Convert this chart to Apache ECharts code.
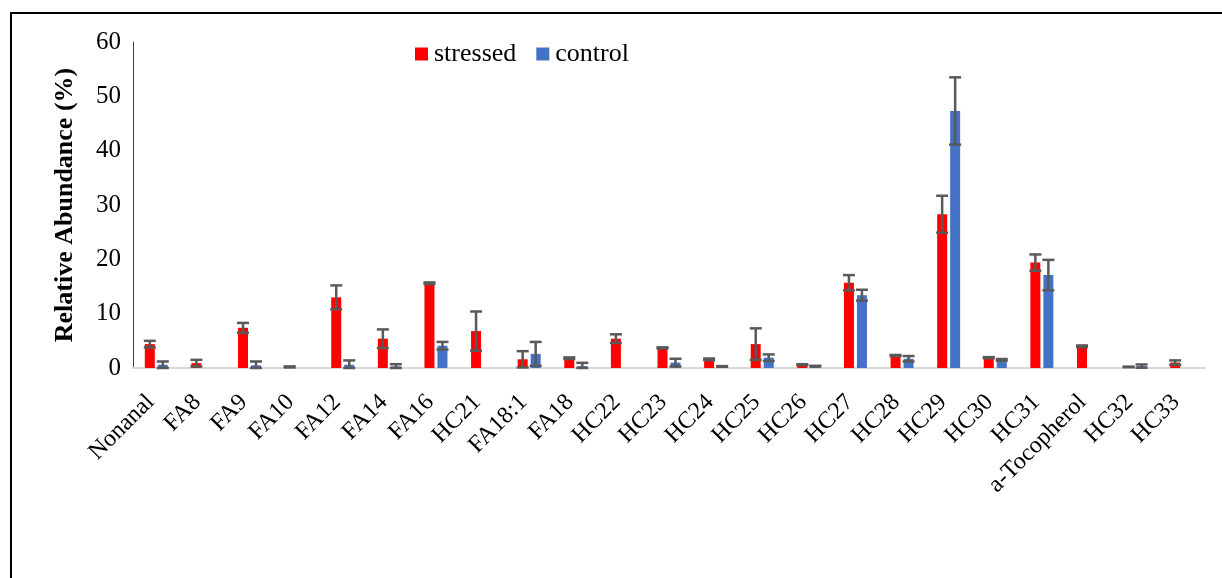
<!DOCTYPE html>
<html>
<head>
<meta charset="utf-8">
<script src="https://cdn.jsdelivr.net/npm/echarts@6/dist/echarts.min.js"></script>
<style>html,body{margin:0;padding:0;background:#fff}#c{width:1222px;height:578px}</style>
</head>
<body>
<div id="c"></div>
<script>
const categories = ['Nonanal','FA8','FA9','FA10','FA12','FA14','FA16','HC21','FA18:1','FA18','HC22','HC23','HC24','HC25','HC26','HC27','HC28','HC29','HC30','HC31','a-Tocopherol','HC32','HC33'];
const stressed    = [4.4, 0.9, 7.4, 0.2, 13.0, 5.4, 15.6, 6.8, 1.6, 1.8, 5.4, 3.7, 1.6, 4.4, 0.6, 15.7, 2.3, 28.3, 1.9, 19.4, 4.0, 0.2, 1.0];
const stressedErr = [0.6, 0.6, 0.9, 0.1, 2.2, 1.7, 0.15, 3.6, 1.5, 0.15, 0.8, 0.1, 0.15, 2.9, 0.1, 1.4, 0.1, 3.4, 0.1, 1.5, 0.15, 0.05, 0.4];
const control     = [0.6, null, 0.5, null, 0.6, 0.3, 4.1, null, 2.6, 0.35, null, 1.0, 0.3, 1.9, 0.35, 13.4, 1.7, 47.3, 1.5, 17.1, null, 0.35, null];
const controlErr  = [0.6, null, 0.7, null, 0.8, 0.4, 0.7, null, 2.2, 0.6, null, 0.7, 0.05, 0.6, 0.05, 1.0, 0.5, 6.2, 0.15, 2.8, null, 0.3, null];
const yTicks = [0, 10, 20, 30, 40, 50, 60];

const FONT = '"Liberation Serif", "Times New Roman", serif';
const BAR_W = 10, BAR_GAP = 3;

function errData(vals, errs) {
  const out = [];
  vals.forEach((v, i) => { if (v != null && errs[i] != null) out.push([i, Math.max(0, v - errs[i]), v + errs[i]]); });
  return out;
}
function errRender(offset) {
  return function (params, api) {
    const lo = api.coord([api.value(0), api.value(1)]);
    const hi = api.coord([api.value(0), api.value(2)]);
    const x = lo[0] + offset, cap = 6;
    const st = { stroke: '#595959', lineWidth: 2.5 };
    return { type: 'group', children: [
      { type: 'line', shape: { x1: x, y1: lo[1], x2: x, y2: hi[1] }, style: st },
      { type: 'line', shape: { x1: x - cap, y1: lo[1], x2: x + cap, y2: lo[1] }, style: st },
      { type: 'line', shape: { x1: x - cap, y1: hi[1], x2: x + cap, y2: hi[1] }, style: st }
    ]};
  };
}

const chart = echarts.init(document.getElementById('c'), null, { renderer: 'canvas' });
chart.setOption({
  animation: false,
  backgroundColor: '#fff',
  graphic: [{ type: 'rect', silent: true, z: -10, shape: { x: 11, y: 13, width: 1400, height: 800 }, style: { fill: 'none', stroke: '#000', lineWidth: 2 } }],
  legend: {
    data: ['stressed', 'control'], left: 410, top: 36, itemWidth: 13, itemHeight: 13, itemGap: 20,
    icon: 'rect', textStyle: { fontFamily: FONT, fontSize: 26, color: '#000', padding: [0, 0, 0, 1] }
  },
  grid: { left: 133, right: 17, top: 42, bottom: 210, containLabel: false },
  xAxis: {
    type: 'category', data: categories,
    axisLine: { lineStyle: { color: '#d9d9d9', width: 2 } },
    axisTick: { show: false },
    axisLabel: { rotate: 45, interval: 0, margin: 25, padding: [0, 8, 0, 0], fontFamily: FONT, fontSize: 24, color: '#000' }
  },
  yAxis: {
    type: 'value', min: 0, max: 60, interval: 10,
    name: 'Relative Abundance (%)', nameLocation: 'middle', nameGap: 55,
    nameTextStyle: { fontFamily: FONT, fontSize: 26, fontWeight: 'bold', color: '#000' },
    axisLine: { show: true, lineStyle: { color: '#404040', width: 1 } },
    axisTick: { show: false },
    splitLine: { show: false },
    axisLabel: { margin: 12, fontFamily: FONT, fontSize: 25, color: '#000',
      formatter: v => yTicks.includes(v) ? String(v) : '' }
  },
  series: [
    { name: 'stressed', type: 'bar', data: stressed, barWidth: BAR_W, barGap: (BAR_GAP / BAR_W * 100) + '%', itemStyle: { color: '#ff0000' } },
    { name: 'control', type: 'bar', data: control, barWidth: BAR_W, itemStyle: { color: '#4472c4' } },
    { type: 'custom', data: errData(stressed, stressedErr), renderItem: errRender(-(BAR_W + BAR_GAP) / 2), encode: { x: 0, y: [1, 2] }, z: 5, silent: true },
    { type: 'custom', data: errData(control, controlErr), renderItem: errRender((BAR_W + BAR_GAP) / 2), encode: { x: 0, y: [1, 2] }, z: 5, silent: true }
  ]
});
</script>
</body>
</html>
